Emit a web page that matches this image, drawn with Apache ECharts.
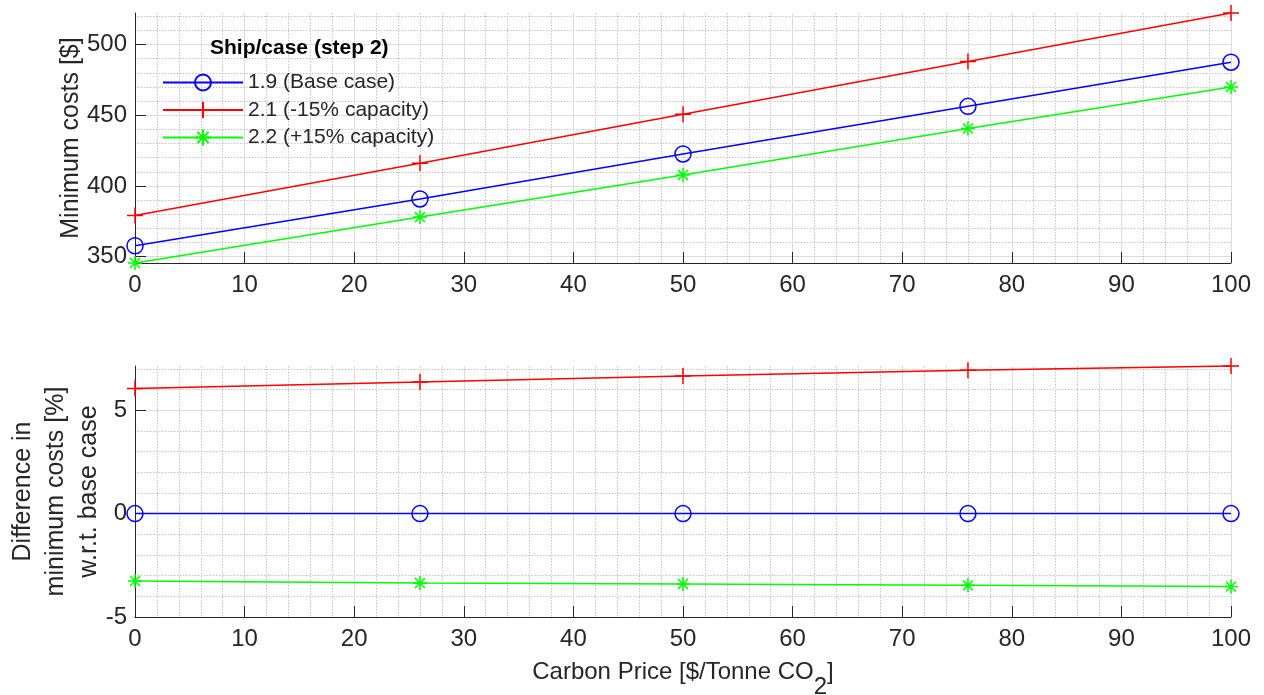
<!DOCTYPE html>
<html>
<head>
<meta charset="utf-8">
<script src="https://cdn.jsdelivr.net/npm/echarts@6/dist/echarts.min.js"></script>
<style>
  html, body { margin: 0; padding: 0; background: #fff; }
  #chart { width: 1264px; height: 695px; }
</style>
</head>
<body>
<div id="chart"></div>
<script>
// ---- Data ----
const carbonPrice = [0, 26, 50, 76, 100];
const seriesNames = ['1.9 (Base case)', '2.1 (-15% capacity)', '2.2 (+15% capacity)'];
const costBase = [357.7, 390.8, 422.6, 456.3, 487.5];
const costMinus15 = [379.1, 416.0, 450.7, 488.0, 522.3];
const costPlus15 = [345.5, 378.0, 407.8, 440.6, 470.0];
const diffBase = [0, 0, 0, 0, 0];
const diffMinus15 = [6.05, 6.37, 6.66, 6.93, 7.14];
const diffPlus15 = [-3.26, -3.36, -3.40, -3.47, -3.53];
const legendTitle = 'Ship/case (step 2)';
const topYName = 'Minimum costs [$]';
const bottomYName = 'Difference in\nminimum costs [%]\nw.r.t. base case';
const xName = 'Carbon Price [$/Tonne CO{sub|2}]';

// ---- Styles ----
const FONT = '"Liberation Sans", Arial, Helvetica, sans-serif';
const TXT = '#262626';
const colors = ['#0000ff', '#ff0000', '#00ff00'];
const symbols = [
  'circle',
  'path://M0,-1L0,1M-1,0L1,0',
  'path://M0,-1L0,1M-1,0L1,0M-0.707,-0.707L0.707,0.707M-0.707,0.707L0.707,-0.707'
];
const symbolSizes = [16, 16, 14];

function pairs(xs, ys) { return xs.map((x, i) => [x, ys[i]]); }

function makeSeries(name, idx, values, axisIdx) {
  return {
    name: name,
    type: 'line',
    xAxisIndex: axisIdx,
    yAxisIndex: axisIdx,
    data: pairs(carbonPrice, values),
    symbol: symbols[idx],
    symbolSize: symbolSizes[idx],
    showAllSymbol: true,
    lineStyle: { color: colors[idx], width: 1.5 },
    itemStyle: { color: idx === 0 ? 'rgba(255,255,255,0)' : colors[idx], borderColor: colors[idx], borderWidth: 1.5 },
    emphasis: { disabled: true },
    z: 3 - idx + 2,
    clip: false
  };
}

const xAxisBase = (gridIndex, showName) => ({
  type: 'value',
  gridIndex: gridIndex,
  min: 0, max: 100, interval: 10,
  axisLine: { show: true, onZero: false, lineStyle: { color: TXT, width: 1 } },
  axisTick: { show: true, inside: true, length: 11, lineStyle: { color: TXT } },
  axisLabel: { color: TXT, fontSize: 24, fontFamily: FONT, margin: 10 },
  splitLine: { show: true, lineStyle: { color: '#dcdcdc', width: 1 } },
  minorTick: { show: false, splitNumber: 5 },
  minorSplitLine: { show: true, lineStyle: { color: '#c4c4c4', width: 1, type: [1.5, 1.5] } },
  name: showName ? xName : '',
  nameLocation: 'middle',
  nameGap: 28,
  nameMoveOverlap: false,
  nameTextStyle: {
    color: TXT, fontSize: 24, fontFamily: FONT,
    rich: { sub: { color: TXT, fontSize: 24, fontFamily: FONT, padding: [30, 0, 0, 0] } }
  }
});

const yAxisCommon = {
  type: 'value',
  axisLine: { show: true, onZero: false, lineStyle: { color: TXT, width: 1 } },
  axisTick: { show: true, inside: true, length: 11, lineStyle: { color: TXT } },
  axisLabel: { color: TXT, fontSize: 24, fontFamily: FONT, margin: 8, showMinLabel: false, showMaxLabel: false },
  splitLine: { show: true, showMaxLine: false, lineStyle: { color: '#dcdcdc', width: 1 } },
  minorTick: { show: false, splitNumber: 5 },
  minorSplitLine: { show: true, lineStyle: { color: '#c4c4c4', width: 1, type: [1.5, 1.5] } },
  nameLocation: 'middle',
  nameMoveOverlap: false
};

const option = {
  animation: false,
  backgroundColor: '#fff',
  textStyle: { fontFamily: FONT },
  title: {
    text: legendTitle,
    left: 205, top: 33,
    textStyle: { fontSize: 21, fontWeight: 'bold', color: '#000', fontFamily: FONT }
  },
  legend: {
    data: seriesNames,
    orient: 'vertical',
    left: 157, top: 67,
    itemWidth: 80, itemHeight: 20, itemGap: 6.5,
    textStyle: { fontSize: 21, color: TXT, fontFamily: FONT },
    selectedMode: false
  },
  grid: [
    { left: 135, right: 33, top: 13, height: 250, containLabel: false, outerBoundsMode: 'none' },
    { left: 135, right: 33, top: 366, height: 251, containLabel: false, outerBoundsMode: 'none' }
  ],
  xAxis: [xAxisBase(0, false), xAxisBase(1, true)],
  yAxis: [
    Object.assign({}, yAxisCommon, {
      gridIndex: 0, min: 'dataMin', max: 'dataMax', splitNumber: 3,
      name: topYName, nameGap: 51,
      nameTextStyle: { color: TXT, fontSize: 25, fontFamily: FONT }
    }),
    Object.assign({}, yAxisCommon, {
      gridIndex: 1, min: -5, max: 'dataMax', interval: 5,
      axisLabel: Object.assign({}, yAxisCommon.axisLabel, { showMinLabel: true }),
      name: bottomYName, nameGap: 29,
      nameTextStyle: { color: TXT, fontSize: 25, fontFamily: FONT, lineHeight: 33 }
    })
  ],
  series: [
    makeSeries(seriesNames[0], 0, costBase, 0),
    makeSeries(seriesNames[1], 1, costMinus15, 0),
    makeSeries(seriesNames[2], 2, costPlus15, 0),
    makeSeries(seriesNames[0], 0, diffBase, 1),
    makeSeries(seriesNames[1], 1, diffMinus15, 1),
    makeSeries(seriesNames[2], 2, diffPlus15, 1)
  ]
};

const chart = echarts.init(document.getElementById('chart'), null, { renderer: 'canvas' });
chart.setOption(option);
</script>
</body>
</html>
